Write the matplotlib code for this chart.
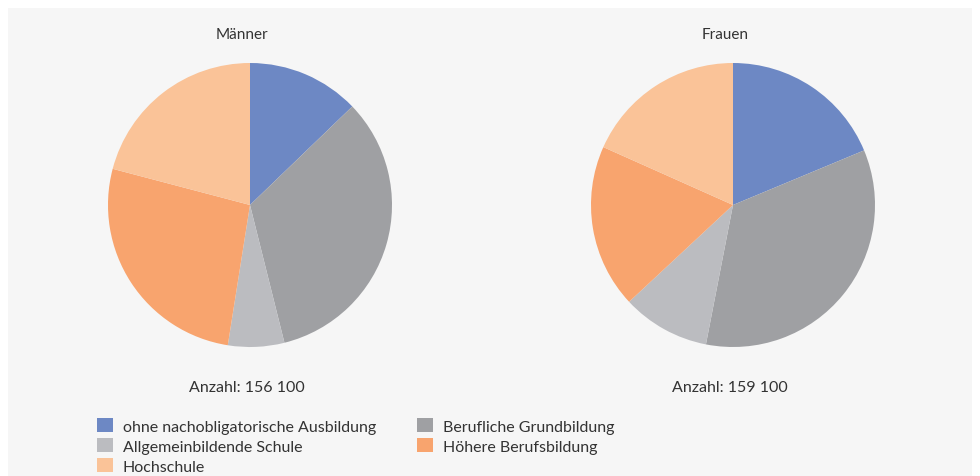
import matplotlib
matplotlib.use("Agg")
import matplotlib.pyplot as plt
from matplotlib.patches import Rectangle, Patch

# Daten (Anteile in %)
kategorien = ["ohne nachobligatorische Ausbildung", "Berufliche Grundbildung",
              "Allgemeinbildende Schule", "Höhere Berufsbildung", "Hochschule"]
maenner = [12.8, 33.3, 6.4, 26.6, 20.9]
frauen = [18.7, 34.3, 10.0, 18.6, 18.3]
titel = ["Männer", "Frauen"]
anzahl = ["Anzahl: 156 100", "Anzahl: 159 100"]

farben = ["#6d88c4", "#9fa0a3", "#bbbcc0", "#f8a46e", "#fac398"]
textfarbe = "#333333"

plt.rcParams["font.family"] = ["Lato", "DejaVu Sans"]

W, H = 980, 477
fig = plt.figure(figsize=(W / 100, H / 100), dpi=100)
fig.patch.set_facecolor("white")

# grauer Hintergrund
fig.patches.append(Rectangle((8 / W, 0), (972 - 8) / W, (H - 9) / H,
                             transform=fig.transFigure, facecolor="#f6f6f6",
                             edgecolor="none", zorder=-10))

r = 142
for cx, werte, t, n in zip([250, 733], [maenner, frauen], titel, anzahl):
    ax = fig.add_axes([(cx - r) / W, (H - 206 - r) / H, 2 * r / W, 2 * r / H])
    ax.pie(werte, colors=farben, startangle=90, counterclock=False,
           wedgeprops=dict(linewidth=0))
    ax.set_xlim(-1, 1)
    ax.set_ylim(-1, 1)
    ax.set_aspect("equal")
    ax.axis("off")
    fig.text((cx - 8) / W, 1 - 35 / H, t, ha="center", va="center",
             fontsize=11, color=textfarbe)
    fig.text((cx - 3) / W, 1 - 388 / H, n, ha="center", va="center",
             fontsize=11.5, color=textfarbe)

# Legende (spaltenweise gefüllt)
reihenfolge = [0, 2, 4, 1, 3]
handles = [Patch(facecolor=farben[i], edgecolor="none") for i in reihenfolge]
labels = [kategorien[i] for i in reihenfolge]
leg = fig.legend(handles, labels, loc="upper left", ncol=2,
                 bbox_to_anchor=(89 / W, 1 - 411 / H), frameon=False,
                 fontsize=11.5, handlelength=1.0, handleheight=1.0,
                 handletextpad=0.6, columnspacing=2.6, labelspacing=0.28,
                 borderpad=0, labelcolor=textfarbe)

fig.savefig("out.png", dpi=100, facecolor=fig.get_facecolor())
